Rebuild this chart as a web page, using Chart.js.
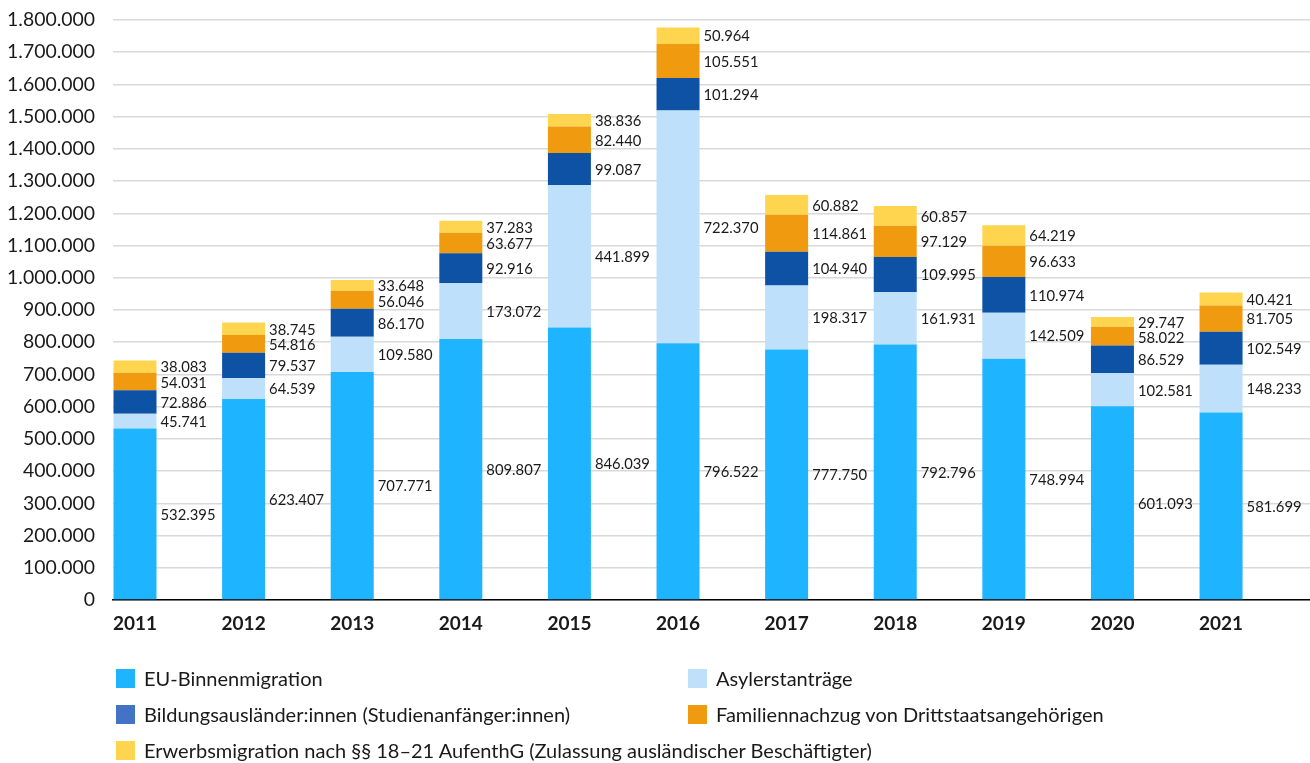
<!DOCTYPE html>
<html lang="de">
<head>
<meta charset="utf-8">
<title>Zuwanderung 2011–2021</title>
<script src="https://cdn.jsdelivr.net/npm/chart.js@4"></script>
<style>
    body { margin: 0; background: #fff; font-family: Lato, sans-serif; }
    #wrap { position: relative; width: 1310px; height: 763px; }
    #legend {
        position: absolute; left: 116px; top: 660px;
        display: grid; grid-template-columns: 572px auto; grid-auto-rows: 36px;
        font-size: 20px; color: #1a1a1a; white-space: nowrap;
    }
    .item { display: flex; align-items: center; }
    .box { flex: 0 0 19px; width: 19px; height: 19px; margin-right: 9px; }
</style>
</head>
<body>
<div id="wrap">
    <canvas id="chart" width="1310" height="763"></canvas>
    <div id="legend"></div>
</div>
<script>
const years = ['2011', '2012', '2013', '2014', '2015', '2016', '2017', '2018', '2019', '2020', '2021'];

const euMigration = [532395, 623407, 707771, 809807, 846039, 796522, 777750, 792796, 748994, 601093, 581699];
const asylum = [45741, 64539, 109580, 173072, 441899, 722370, 198317, 161931, 142509, 102581, 148233];
const students = [72886, 79537, 86170, 92916, 99087, 101294, 104940, 109995, 110974, 86529, 102549];
const family = [54031, 54816, 56046, 63677, 82440, 105551, 114861, 97129, 96633, 58022, 81705];
const labour = [38083, 38745, 33648, 37283, 38836, 50964, 60882, 60857, 64219, 29747, 40421];

const seriesNames = [
    'EU-Binnenmigration',
    'Asylerstanträge',
    'Bildungsausländer:innen (Studienanfänger:innen)',
    'Familiennachzug von Drittstaatsangehörigen',
    'Erwerbsmigration nach §§ 18–21 AufenthG (Zulassung ausländischer Beschäftigter)'
];
const seriesValues = [euMigration, asylum, students, family, labour];
const barColors = ['#1FB4FF', '#BEE0FB', '#0D52A5', '#F09A10', '#FFD44F'];
const legendColors = ['#1FB4FF', '#BEE0FB', '#4472C4', '#F09A10', '#FFD44F'];

const fmt = (n) => new Intl.NumberFormat('de-DE').format(n);

Chart.defaults.font.family = 'Lato, sans-serif';
Chart.defaults.color = '#1a1a1a';

// value labels to the right of each segment, nudged apart when they collide
const segmentLabels = {
    id: 'segmentLabels',
    afterDatasetsDraw(chart) {
        const ctx = chart.ctx;
        ctx.save();
        ctx.font = '14.8px Lato, sans-serif';
        ctx.fillStyle = '#1a1a1a';
        ctx.textAlign = 'left';
        ctx.textBaseline = 'middle';
        const n = chart.data.datasets.length;
        years.forEach((_, j) => {
            let prev = -Infinity;
            for (let i = n - 1; i >= 0; i--) {
                const bar = chart.getDatasetMeta(i).data[j];
                const center = (bar.y + bar.base) / 2 + 1;
                const y = Math.max(center, prev + 15.5);
                prev = y;
                ctx.fillText(fmt(chart.data.datasets[i].data[j].y), bar.x + bar.width / 2 + 4, y);
            }
        });
        ctx.restore();
    }
};

const chart = new Chart(document.getElementById('chart'), {
    type: 'bar',
    data: {
        datasets: seriesNames.map((name, i) => ({
            label: name,
            data: seriesValues[i].map((v, j) => ({ x: j, y: v })),
            backgroundColor: barColors[i],
            borderWidth: 0,
            categoryPercentage: 1,
            barPercentage: 0.396
        }))
    },
    options: {
        responsive: false,
        animation: false,
        devicePixelRatio: 1,
        layout: { padding: { top: 20, left: 0, right: 0, bottom: 0 } },
        plugins: {
            legend: { display: false },
            tooltip: { enabled: false }
        },
        scales: {
            x: {
                type: 'linear',
                offset: false,
                stacked: true,
                min: -0.2026,
                max: 10.819,
                grid: { display: false, drawTicks: false, offset: false },
                border: { display: true, color: '#000', width: 1.5 },
                afterBuildTicks: (scale) => { scale.ticks = years.map((_, i) => ({ value: i })); },
                afterFit: (scale) => { scale.height = 163; },
                ticks: {
                    padding: 12,
                    maxRotation: 0,
                    font: { size: 19, weight: 'bold' },
                    color: '#1a1a1a',
                    callback: (v) => years[v]
                }
            },
            y: {
                stacked: true,
                min: 0,
                max: 1800000,
                grid: { color: '#d9d9d9', lineWidth: 1.5, drawTicks: true, tickLength: 18, tickColor: 'rgba(0,0,0,0)' },
                border: { display: false },
                afterFit: (scale) => { scale.width = 113; },
                ticks: {
                    stepSize: 100000,
                    padding: 0,
                    font: { size: 19.4 },
                    color: '#1a1a1a',
                    callback: (v) => fmt(v)
                }
            }
        }
    },
    plugins: [segmentLabels]
});

// legend in two columns, built from the chart's datasets
const legendEl = document.getElementById('legend');
chart.data.datasets.forEach((ds, i) => {
    const item = document.createElement('div');
    item.className = 'item';
    item.innerHTML = `<span class="box" style="background:${legendColors[i]}"></span><span>${ds.label}</span>`;
    legendEl.appendChild(item);
});
</script>
</body>
</html>
